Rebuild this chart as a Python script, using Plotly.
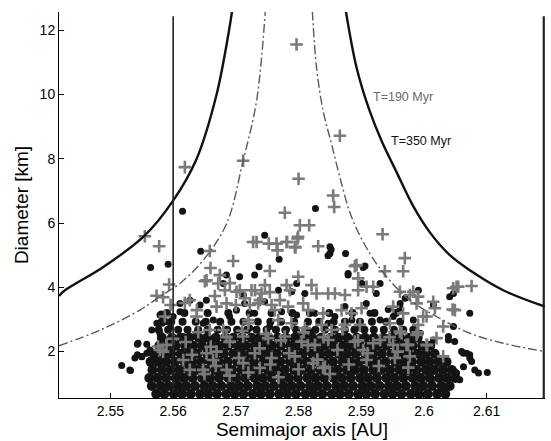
import plotly.graph_objects as go

# ---------------- axis / labels ----------------
x_ticks = [2.55, 2.56, 2.57, 2.58, 2.59, 2.60, 2.61]
x_tick_text = ["2.55", "2.56", "2.57", "2.58", "2.59", "2.6", "2.61"]
y_ticks = [2, 4, 6, 8, 10, 12]
x_range = [2.5418, 2.6193]
y_range = [0.555, 12.57]

# resonances
res_names = ["7J:\u22123S:\u22122A", "6J:\u22121S:\u22122A"]
res_a = [2.5600, 2.6191]
res_top = 12.44

# ---------------- curves ----------------
t350_left_x = [2.5418, 2.5427, 2.5490, 2.5554, 2.5600, 2.5637, 2.5669, 2.5689, 2.5694]
t350_left_y = [3.73, 3.90, 4.65, 5.60, 6.70, 7.98, 9.98, 11.98, 12.60]
t350_right_x = [2.58754, 2.58925, 2.59121, 2.59323, 2.59567, 2.59822, 2.60094, 2.60413, 2.60732,
                2.61263, 2.61930]
t350_right_y = [12.60, 10.84, 9.56, 8.56, 7.57, 6.55, 5.71, 5.00, 4.53, 3.91, 3.40]

t190_left_x = [2.54182, 2.54836, 2.55469, 2.55788, 2.56107, 2.56478, 2.56852, 2.57116, 2.57330, 2.57470]
t190_left_y = [2.18, 2.67, 3.29, 3.71, 4.12, 4.84, 5.98, 7.94, 9.80, 12.60]
t190_right_x = [2.58220, 2.58287, 2.58392, 2.58526, 2.58659, 2.58845, 2.59137, 2.59404, 2.59775,
                2.60201, 2.60732, 2.61263, 2.6193]
t190_right_y = [12.60, 10.84, 9.49, 8.46, 7.43, 6.19, 5.05, 4.33, 3.60, 3.09, 2.57, 2.26, 2.00]

# ---------------- black dots: dense core, rows of estimated positions ----------------
core_y = [0.68, 0.93, 1.18, 1.43, 1.68, 1.93, 2.18, 2.43]
core_x = [
    [2.5573, 2.5586, 2.5601, 2.5614, 2.5628, 2.5643, 2.5656, 2.5670, 2.5685, 2.5698, 2.5712, 2.5727,
     2.5740, 2.5754, 2.5769, 2.5782, 2.5796, 2.5811, 2.5824, 2.5838, 2.5853, 2.5866, 2.5880, 2.5895,
     2.5908, 2.5922, 2.5937, 2.5950, 2.5964, 2.5979, 2.5992, 2.6006, 2.6021, 2.6034],
    [2.5566, 2.5580, 2.5593, 2.5608, 2.5621, 2.5635, 2.5650, 2.5663, 2.5677, 2.5692, 2.5705, 2.5719,
     2.5734, 2.5747, 2.5761, 2.5776, 2.5789, 2.5803, 2.5818, 2.5831, 2.5845, 2.5860, 2.5873, 2.5887,
     2.5902, 2.5915, 2.5929, 2.5944, 2.5957, 2.5971, 2.5986, 2.5999, 2.6013, 2.6028, 2.6041],
    [2.5562, 2.5575, 2.5589, 2.5604, 2.5617, 2.5631, 2.5646, 2.5659, 2.5673, 2.5688, 2.5701, 2.5715,
     2.5730, 2.5743, 2.5757, 2.5772, 2.5785, 2.5799, 2.5814, 2.5827, 2.5841, 2.5856, 2.5869, 2.5883,
     2.5898, 2.5911, 2.5925, 2.5940, 2.5953, 2.5967, 2.5982, 2.5995, 2.6009, 2.6024, 2.6037, 2.6050],
    [2.5567, 2.5582, 2.5596, 2.5610, 2.5625, 2.5638, 2.5652, 2.5667, 2.5680, 2.5694, 2.5709, 2.5722,
     2.5736, 2.5751, 2.5764, 2.5778, 2.5793, 2.5806, 2.5820, 2.5835, 2.5848, 2.5862, 2.5877, 2.5890,
     2.5904, 2.5919, 2.5932, 2.5946, 2.5961, 2.5974, 2.5988, 2.6003, 2.6016, 2.6030, 2.6044],
    [2.5564, 2.5576, 2.5589, 2.5603, 2.5618, 2.5631, 2.5645, 2.5660, 2.5673, 2.5687, 2.5702, 2.5715,
     2.5729, 2.5744, 2.5757, 2.5771, 2.5786, 2.5799, 2.5813, 2.5828, 2.5841, 2.5855, 2.5870, 2.5883,
     2.5897, 2.5912, 2.5925, 2.5939, 2.5954, 2.5967, 2.5981, 2.5996, 2.6009, 2.6023, 2.6036],
    [2.5570, 2.5584, 2.5597, 2.5612, 2.5625, 2.5639, 2.5654, 2.5667, 2.5681, 2.5696, 2.5709, 2.5723,
     2.5738, 2.5751, 2.5765, 2.5780, 2.5793, 2.5807, 2.5822, 2.5835, 2.5849, 2.5864, 2.5877, 2.5891,
     2.5906, 2.5919, 2.5933, 2.5948, 2.5961, 2.5975, 2.5990, 2.6003, 2.6017],
    [2.5578, 2.5591, 2.5604, 2.5619, 2.5632, 2.5646, 2.5661, 2.5674, 2.5688, 2.5703, 2.5716, 2.5730,
     2.5745, 2.5758, 2.5772, 2.5787, 2.5800, 2.5814, 2.5829, 2.5842, 2.5856, 2.5871, 2.5884, 2.5898,
     2.5913, 2.5926, 2.5940, 2.5955, 2.5968, 2.5982, 2.5997, 2.6010],
    [2.5582, 2.5598, 2.5612, 2.5626, 2.5641, 2.5654, 2.5668, 2.5683, 2.5696, 2.5710, 2.5725, 2.5738,
     2.5752, 2.5767, 2.5780, 2.5794, 2.5809, 2.5822, 2.5836, 2.5851, 2.5864, 2.5878, 2.5893, 2.5906,
     2.5920, 2.5935, 2.5948, 2.5962, 2.5977, 2.5990],
]

# patchier rows above the core
patch_y = [2.68, 2.93, 3.20]
patch_x = [
    [2.5577, 2.5592, 2.5608, 2.5623, 2.5640, 2.5655, 2.5671, 2.5686, 2.5702, 2.5718, 2.5733, 2.5749,
     2.5764, 2.5780, 2.5796, 2.5811, 2.5827, 2.5842, 2.5858, 2.5874, 2.5889, 2.5905, 2.5920, 2.5936,
     2.5952, 2.5967, 2.5983],
    [2.5582, 2.5597, 2.5615, 2.5636, 2.5652, 2.5675, 2.5693, 2.5712, 2.5735, 2.5755, 2.5772, 2.5793,
     2.5815, 2.5833, 2.5856, 2.5874, 2.5898, 2.5917, 2.5940, 2.5962],
    [2.5590, 2.5618, 2.5655, 2.5688, 2.5722, 2.5757, 2.5790, 2.5818, 2.5849, 2.5886, 2.5921, 2.5955],
]

# individually read black dots
dot_x = [2.5615, 2.5827, 2.5564, 2.5592, 2.5644, 2.5746, 2.5852, 2.5847, 2.5875, 2.5769, 2.5737,
         2.5903, 2.5906, 2.5581, 2.5589, 2.5574, 2.5543, 2.5558, 2.5543, 2.5550, 2.5518, 2.5532,
         2.5563, 2.5611, 2.5627, 2.5643, 2.5653, 2.5611, 2.5600, 2.5579, 2.5582, 2.5566, 2.5579,
         2.5595, 2.5544, 2.5558, 2.5568, 2.5539, 2.5550, 2.5531, 2.5680, 2.5685, 2.5706, 2.5712,
         2.5616, 2.5637, 2.5648, 2.5664, 2.5690, 2.5701, 2.5714, 2.5730, 2.5768, 2.5789, 2.5810,
         2.5797, 2.5879, 2.5901, 2.5746, 2.5773, 2.5797, 2.5826, 2.5858, 2.5874, 2.5730, 2.5754,
         2.5778, 2.5821, 2.5847, 2.5885, 2.5898, 2.5722, 2.5799, 2.5930, 2.5962, 2.5970, 2.5908,
         2.5914, 2.5930, 2.5951, 2.5983, 2.5994, 2.5983, 2.6039, 2.6049, 2.6041, 2.6047, 2.6060,
         2.6068, 2.6073, 2.6081, 2.6052, 2.6057, 2.6028, 2.6073, 2.6047, 2.6063, 2.6073, 2.6076,
         2.6087, 2.6101, 2.6063, 2.6049, 2.6012, 2.6015, 2.5943, 2.5962, 2.5991, 2.5850, 2.5850,
         2.5879, 2.5924, 2.6039, 2.6015]
dot_y = [6.37, 6.45, 4.62, 4.72, 5.12, 5.62, 5.18, 4.98, 5.05, 4.87, 4.64,
         4.62, 4.66, 3.17, 2.93, 2.88, 2.23, 2.23, 1.90, 1.84, 1.57, 1.41,
         2.05, 3.50, 3.60, 3.45, 3.60, 3.24, 3.09, 3.14, 2.88, 2.67, 2.57,
         2.73, 2.26, 1.95, 1.85, 1.80, 1.85, 1.43, 4.12, 4.38, 4.33, 3.76,
         2.47, 2.57, 2.88, 2.98, 3.09, 3.29, 3.50, 4.38, 3.91, 3.86, 3.81,
         4.12, 4.38, 4.12, 3.55, 3.24, 3.14, 3.19, 3.09, 3.40, 3.19, 2.78,
         2.67, 2.62, 2.88, 2.98, 2.73, 2.73, 2.57, 4.12, 3.50, 3.66, 3.50,
         3.19, 2.98, 3.09, 2.98, 2.57, 2.42, 2.47, 2.31, 3.71, 3.81, 2.00,
         1.95, 1.80, 1.43, 1.33, 1.12, 0.81, 3.19, 2.78, 1.95, 1.90, 1.69,
         1.33, 1.35, 1.53, 1.38, 1.12, 3.45, 3.31, 3.35, 3.91, 5.26, 5.05,
         4.43, 3.81, 2.36, 2.36]

# ---------------- gray crosses ----------------
cross_x = [2.57968, 2.56187, 2.57116, 2.58659, 2.58000, 2.58552, 2.58568, 2.57781, 2.58021, 2.58169,
           2.57276, 2.57330, 2.57526, 2.57665, 2.57809, 2.57984, 2.57952, 2.58313, 2.58898, 2.57542,
           2.59340, 2.59695, 2.59376, 2.59668, 2.55549, 2.55777, 2.56585, 2.56957, 2.56596, 2.55936,
           2.55735, 2.55840, 2.55959, 2.55868, 2.55840, 2.55760, 2.56506, 2.56745, 2.56904, 2.57064,
           2.56825, 2.56665, 2.57144, 2.57304, 2.57383, 2.57223, 2.57000, 2.56266, 2.56378, 2.56187,
           2.57463, 2.57542, 2.57702, 2.57861, 2.57622, 2.57994, 2.57809, 2.57250, 2.57410, 2.58207,
           2.58287, 2.58472, 2.58580, 2.58740, 2.58950, 2.57356, 2.57570, 2.57834, 2.58073, 2.58153,
           2.58392, 2.58686, 2.58845, 2.59005, 2.57200, 2.57675, 2.57888, 2.58100, 2.58367, 2.58526,
           2.58739, 2.57515, 2.57781, 2.58048, 2.58260, 2.58472, 2.58898, 2.59030, 2.57303, 2.57570,
           2.57941, 2.58233, 2.58420, 2.57383, 2.58392, 2.56533, 2.56718, 2.57011, 2.56373, 2.56692,
           2.56852, 2.56798, 2.57117, 2.56533, 2.56692, 2.56160, 2.56479, 2.56638, 2.57117, 2.55788,
           2.55894, 2.57200, 2.59190, 2.59616, 2.59775, 2.59907, 2.60147, 2.60174, 2.60493, 2.60520,
           2.59668, 2.59456, 2.59907, 2.60041, 2.60306, 2.59616, 2.59300, 2.59509, 2.59722, 2.60041,
           2.60200, 2.60306, 2.59084, 2.59536, 2.59775, 2.58978, 2.59190, 2.60759, 2.60466, 2.60546,
           2.60456, 2.59828, 2.59882, 2.59509, 2.59642, 2.59882, 2.59748, 2.59987, 2.58925, 2.58951,
           2.59085, 2.57649, 2.57993, 2.57818, 2.57941, 2.56904, 2.56266, 2.56852, 2.56585,
           2.5650, 2.5668, 2.5690, 2.5705, 2.5720, 2.5738, 2.5755, 2.5768, 2.5785, 2.5800,
           2.5815, 2.5830, 2.5850, 2.5862, 2.5880, 2.5895, 2.5910, 2.5928, 2.5945, 2.5958,
           2.5975, 2.5990, 2.6005, 2.5620, 2.5640, 2.5660, 2.5685, 2.5710, 2.5748, 2.5772,
           2.5808, 2.5840, 2.5870, 2.5600, 2.5630]
cross_y = [11.56, 7.74, 7.94, 8.72, 7.38, 6.86, 6.50, 6.32, 5.93, 5.93,
           5.41, 5.41, 5.36, 5.15, 5.41, 5.52, 5.24, 5.28, 4.66, 4.51,
           5.65, 4.91, 4.50, 4.50, 5.59, 5.28, 5.13, 4.82, 4.60, 4.09,
           3.74, 3.69, 3.45, 3.09, 2.00, 2.16, 4.19, 4.38, 4.13, 3.91,
           3.91, 3.73, 3.66, 3.91, 3.60, 3.45, 3.45, 3.60, 3.29, 3.51,
           4.07, 3.85, 3.60, 3.91, 3.29, 4.33, 4.07, 3.91, 3.81, 4.07,
           3.81, 3.81, 3.81, 3.76, 3.91, 3.50, 3.45, 3.40, 3.50, 3.29,
           3.19, 3.29, 3.19, 3.35, 2.98, 2.98, 2.88, 2.73, 2.83, 2.67,
           2.83, 2.42, 2.47, 2.31, 2.21, 2.36, 2.31, 2.05, 1.95, 1.80,
           1.85, 1.64, 1.53, 1.49, 1.49, 4.22, 4.12, 3.86, 3.09, 3.40,
           3.50, 2.67, 2.47, 1.95, 2.00, 1.74, 1.43, 1.74, 1.64, 2.05,
           2.21, 2.88, 4.02, 3.86, 3.76, 3.71, 3.55, 3.35, 3.29, 4.02,
           3.19, 2.88, 2.83, 3.09, 2.78, 2.62, 2.36, 2.21, 2.21, 2.21,
           2.42, 1.85, 1.74, 1.80, 1.85, 2.83, 2.26, 4.04, 3.97, 4.02,
           3.31, 3.86, 3.50, 3.40, 2.57, 2.52, 2.21, 3.09, 4.69, 4.28,
           4.02, 5.36, 5.57, 5.41, 5.26, 2.31, 1.43, 1.43, 2.67,
           1.30, 1.55, 1.25, 1.80, 1.35, 2.10, 1.60, 1.20, 1.95, 1.45,
           2.20, 1.75, 1.30, 2.05, 1.60, 2.35, 1.95, 1.55, 2.45, 2.00,
           1.50, 2.60, 2.20, 2.30, 2.60, 2.15, 2.45, 2.65, 2.55, 2.35,
           2.60, 2.45, 2.70, 2.40, 1.90]

# ---------------- figure ----------------
FONT = "Liberation Sans, Arial, Helvetica, sans-serif"
BLACK = "#141414"
GRAY = "#7a7a7a"

cx, cy = [], []
for yv, row in zip(core_y, core_x):
    cx += row
    cy += [yv] * len(row)
px_, py_ = [], []
for yv, row in zip(patch_y, patch_x):
    px_ += row
    py_ += [yv] * len(row)

fig = go.Figure()
fig.add_trace(go.Scatter(x=cx, y=cy, mode="markers",
                         marker=dict(size=10, color=BLACK, line=dict(width=0)), hoverinfo="skip"))
fig.add_trace(go.Scatter(x=px_, y=py_, mode="markers",
                         marker=dict(size=8, color=BLACK, line=dict(width=0)), hoverinfo="skip"))
fig.add_trace(go.Scatter(x=dot_x, y=dot_y, mode="markers",
                         marker=dict(size=7, color=BLACK, line=dict(width=0)), hoverinfo="skip"))
fig.add_trace(go.Scatter(x=cross_x, y=cross_y, mode="markers",
                         marker=dict(size=9, symbol="cross-thin-open", color=GRAY,
                                     line=dict(width=2.6, color=GRAY)), hoverinfo="skip"))

for xs, ys in [(t190_left_x, t190_left_y), (t190_right_x, t190_right_y)]:
    fig.add_trace(go.Scatter(x=xs, y=ys, mode="lines", line_shape="spline",
                             line=dict(color="#5a5a5a", width=1.4, dash="9px,3px,2px,3px"),
                             hoverinfo="skip"))
for xs, ys in [(t350_left_x, t350_left_y), (t350_right_x, t350_right_y)]:
    fig.add_trace(go.Scatter(x=xs, y=ys, mode="lines", line_shape="spline",
                             line=dict(color="#111111", width=2.4), hoverinfo="skip"))

for a, w in zip(res_a, [1.6, 2.2]):
    fig.add_trace(go.Scatter(x=[a, a], y=[y_range[0], res_top], mode="lines",
                             line=dict(color="#222222", width=w), hoverinfo="skip"))

fig.add_annotation(x=res_a[0] + 0.0002, y=12.72, text=res_names[0], showarrow=False,
                   xanchor="right", yanchor="middle", font=dict(family=FONT, size=10, color="#333"))
fig.add_annotation(x=res_a[1] + 0.0005, y=12.72, text=res_names[1], showarrow=False,
                   xanchor="right", yanchor="middle", font=dict(family=FONT, size=10, color="#333"))
fig.add_annotation(x=2.5915, y=9.93, text="T=190 Myr", showarrow=False, xanchor="left",
                   yanchor="middle", font=dict(family=FONT, size=12.5, color="#6a6a6a"))
fig.add_annotation(x=2.5944, y=8.56, text="T=350 Myr", showarrow=False, xanchor="left",
                   yanchor="middle", font=dict(family=FONT, size=12.5, color="#111"))

axis_common = dict(showgrid=False, zeroline=False, showline=True, linecolor="black", linewidth=1,
                   ticks="inside", ticklen=5, tickcolor="black", tickwidth=1, mirror=False,
                   tickfont=dict(family=FONT, size=14, color="black"))
fig.update_xaxes(range=x_range, tickvals=x_ticks, ticktext=x_tick_text,
                 title=dict(text="Semimajor axis [AU]", font=dict(family=FONT, size=19, color="black"),
                            standoff=4), **axis_common)
fig.update_yaxes(range=y_range, tickvals=y_ticks,
                 title=dict(text="Diameter [km]", font=dict(family=FONT, size=19, color="black"),
                            standoff=5), **axis_common)
fig.update_layout(width=551, height=441, showlegend=False, plot_bgcolor="white",
                  paper_bgcolor="white", margin=dict(l=59, r=6, t=12, b=43))
fig.write_html("out.html", config={"displayModeBar": False})
